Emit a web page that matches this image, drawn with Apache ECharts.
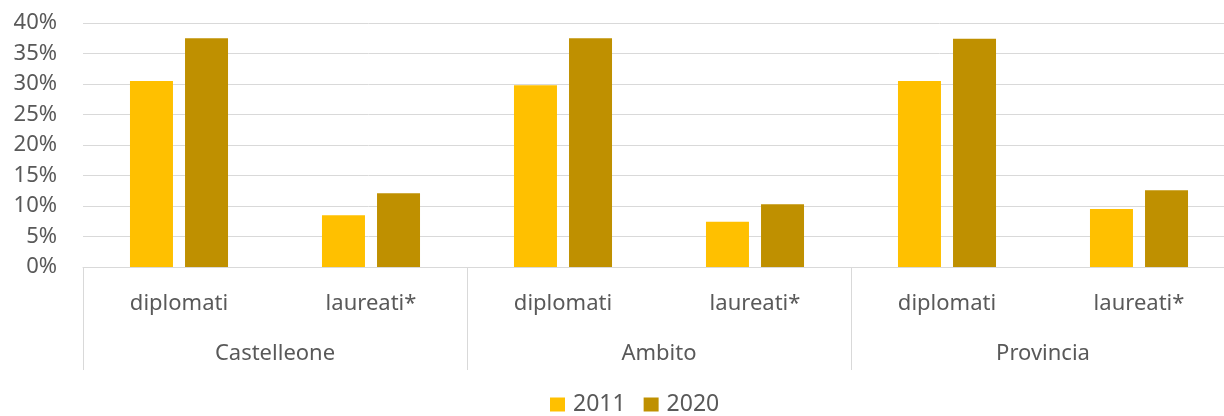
<!DOCTYPE html>
<html>
<head>
<meta charset="utf-8">
<script src="https://cdn.jsdelivr.net/npm/echarts@6/dist/echarts.min.js"></script>
<style>
  html, body { margin: 0; padding: 0; background: #fff; }
  #chart { width: 1224px; height: 416px; }
</style>
</head>
<body>
<div id="chart"></div>
<script>
const subCategories = ["diplomati", "laureati*", "diplomati", "laureati*", "diplomati", "laureati*"];
const groups = ["Castelleone", "Ambito", "Provincia"];
const values2011 = [30.5, 8.5, 29.8, 7.4, 30.5, 9.5];
const values2020 = [37.5, 12.1, 37.5, 10.3, 37.4, 12.6];
const yTicks = { min: 0, max: 40, step: 5 };

const font = "Noto Sans, sans-serif";
const textColor = "#595959";
const lineColor = "#d9d9d9";

const chart = echarts.init(document.getElementById("chart"), null, { renderer: "canvas" });
chart.setOption({
  animation: false,
  textStyle: { fontFamily: font },
  grid: { left: 83, width: 1152, top: 23, height: 244, outerBoundsMode: "none" },
  legend: {
    top: 393, left: 550, itemWidth: 15, itemHeight: 14, itemGap: 18, padding: 0,
    icon: "rect",
    textStyle: { fontSize: 23, color: textColor, fontFamily: font, padding: [0, 0, 0, 3] },
    data: ["2011", "2020"]
  },
  xAxis: [
    {
      type: "category", data: subCategories, position: "bottom",
      axisLine: { lineStyle: { color: lineColor, width: 1 } },
      axisTick: { show: false },
      axisLabel: { color: textColor, fontSize: 22, margin: 26, interval: 0 }
    },
    {
      type: "category", data: groups, position: "bottom",
      axisLine: { show: false },
      axisTick: { show: true, length: 103, interval: 0, lineStyle: { color: lineColor, width: 1 } },
      axisLabel: { color: textColor, fontSize: 22, margin: 76, interval: 0 }
    }
  ],
  yAxis: {
    type: "value", min: yTicks.min, max: yTicks.max, interval: yTicks.step,
    axisLine: { show: false }, axisTick: { show: false },
    axisLabel: { color: textColor, fontSize: 22, margin: 26, formatter: "{value}%" },
    splitLine: { lineStyle: { color: lineColor, width: 1 } }
  },
  series: [
    { name: "2011", type: "bar", data: values2011, barWidth: 43, barGap: "28%", itemStyle: { color: "#FFC000" } },
    { name: "2020", type: "bar", data: values2020, barWidth: 43, itemStyle: { color: "#BF9000" } }
  ]
});
</script>
</body>
</html>
